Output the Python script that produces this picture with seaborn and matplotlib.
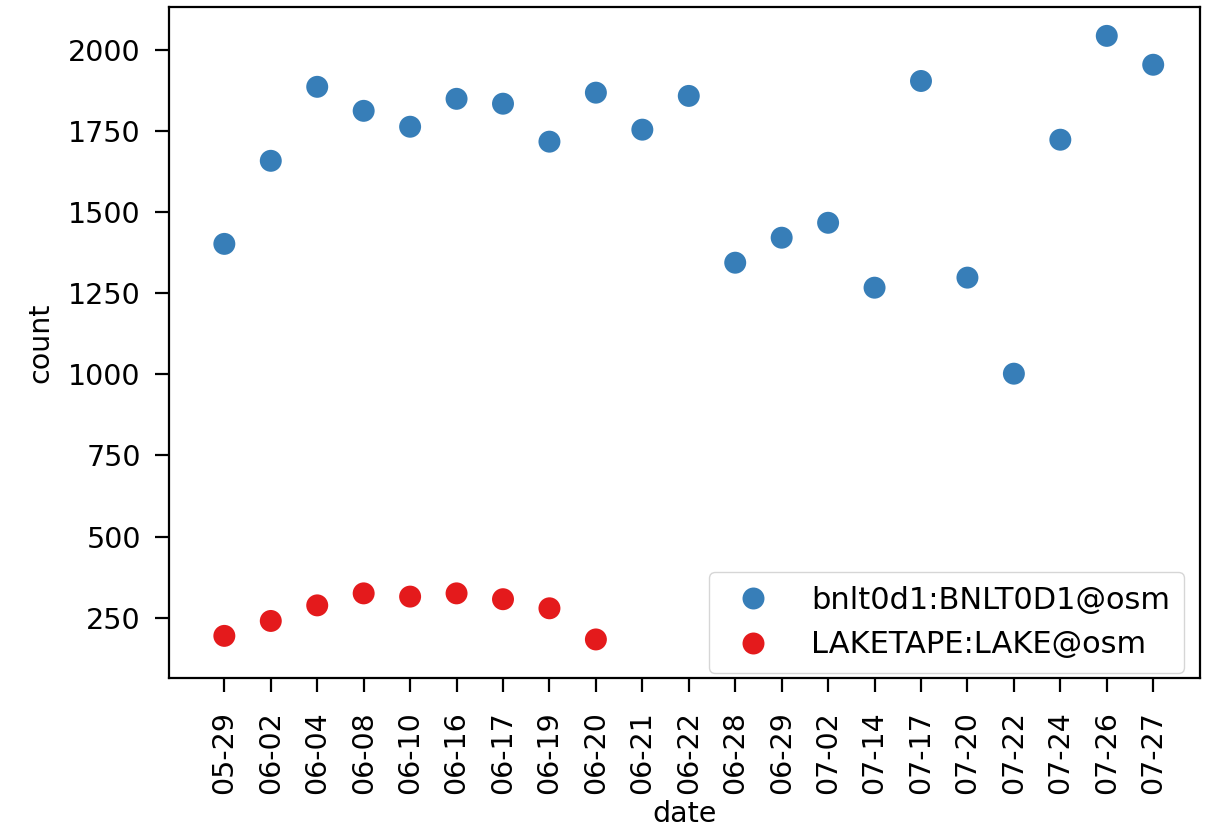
import numpy as np
import pandas as pd
import matplotlib
matplotlib.use('Agg')
import matplotlib.pyplot as plt
import seaborn as sns

# dates (x categories) and counts per device
dates = ['05-29', '06-02', '06-04', '06-08', '06-10', '06-16', '06-17', '06-19',
         '06-20', '06-21', '06-22', '06-28', '06-29', '07-02', '07-14', '07-17',
         '07-20', '07-22', '07-24', '07-26', '07-27']
bnlt_counts = [1402, 1658, 1886, 1812, 1763, 1849, 1834, 1717, 1868, 1754, 1858,
               1344, 1421, 1467, 1267, 1904, 1298, 1002, 1723, 2043, 1954]
lake_dates = dates[:9]
lake_counts = [194, 240, 288, 325, 315, 325, 307, 279, 183]

names = ['bnlt0d1:BNLT0D1@osm', 'LAKETAPE:LAKE@osm']
colors = ['#377eb8', '#e41a1c']

df = pd.concat([
    pd.DataFrame({'date': dates, 'count': bnlt_counts, 'name': names[0]}),
    pd.DataFrame({'date': lake_dates, 'count': lake_counts, 'name': names[1]}),
], ignore_index=True)

fs = 20.5
fig, ax = plt.subplots(figsize=(12.13, 8.33), dpi=100)
fig.subplots_adjust(left=0.139, right=0.989, top=0.9916, bottom=0.186)

sns.scatterplot(data=df, x='date', y='count', hue='name', palette=colors,
                s=250, linewidth=0, ax=ax)

ax.set_xlim(-1.2, 21.0)
ax.set_ylim(64, 2132)
ax.set_yticks([250, 500, 750, 1000, 1250, 1500, 1750, 2000])
ax.tick_params(axis='both', labelsize=fs, length=10, width=1.6, pad=10)
ax.tick_params(axis='x', labelrotation=90, pad=14)
for sp in ax.spines.values():
    sp.set_linewidth(1.6)
ax.set_xlabel('date', fontsize=fs, labelpad=4)
ax.set_ylabel('count', fontsize=fs, labelpad=10)

leg = ax.legend(loc='lower right', fontsize=22, markerscale=1.0,
                bbox_to_anchor=(0.9845, 0.0075), borderaxespad=0,
                borderpad=0.45, handletextpad=0.9)

fig.savefig('out.png', dpi=100)
